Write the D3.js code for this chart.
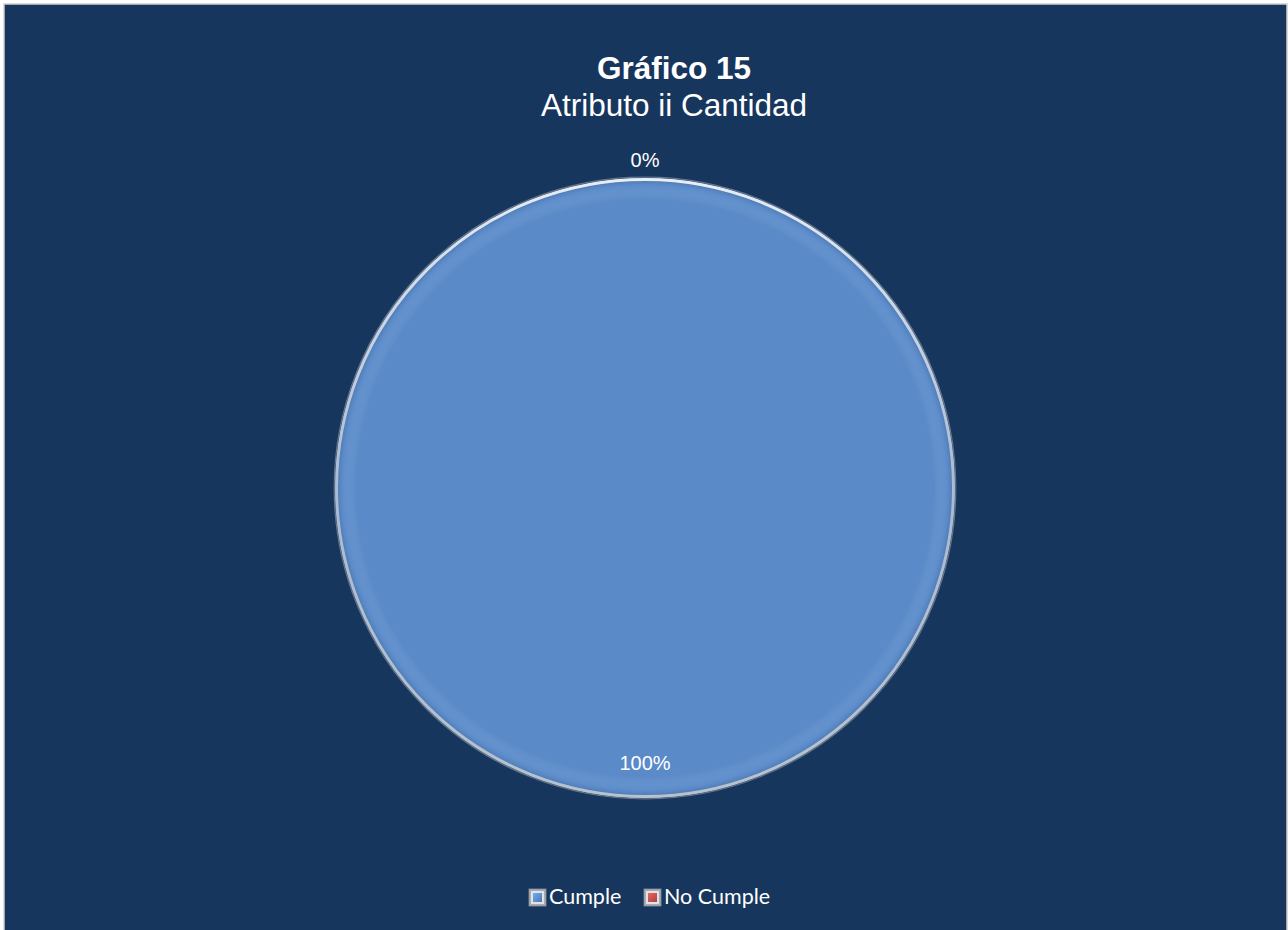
<!DOCTYPE html>
<html>
<head>
<meta charset="utf-8">
<script src="https://cdn.jsdelivr.net/npm/d3@7"></script>
<style>
  html, body { margin: 0; padding: 0; background: #ffffff; }
  svg { display: block; }
</style>
</head>
<body>
<svg id="chart" width="1288" height="930"></svg>
<script>
// Chart data
const categories = ["Cumple", "No Cumple"];
const values = [100, 0];
const percentLabels = ["100%", "0%"];
const titleLines = ["Gráfico 15", "Atributo ii Cantidad"];

const colors = { "Cumple": "#5a8ac8", "No Cumple": "#c0504d" };

const svg = d3.select("#chart");
const W = 1288, H = 930;

// Chart area with thin light frame
svg.append("rect")
  .attr("x", 4).attr("y", 4)
  .attr("width", W - 5).attr("height", H)
  .attr("fill", "#17365d")
  .attr("stroke", "#d0d0d0")
  .attr("stroke-width", 1.5);

const defs = svg.append("defs");

// Soft bevel shading near the rim of the pie
const bevel = defs.append("radialGradient")
  .attr("id", "bevel").attr("cx", "50%").attr("cy", "50%").attr("r", "50%");
bevel.append("stop").attr("offset", "0.93").attr("stop-color", "#ffffff").attr("stop-opacity", 0);
bevel.append("stop").attr("offset", "0.97").attr("stop-color", "#7aa8e4").attr("stop-opacity", 0.18);
bevel.append("stop").attr("offset", "0.99").attr("stop-color", "#3e6294").attr("stop-opacity", 0.3);
bevel.append("stop").attr("offset", "1").attr("stop-color", "#2c4a78").attr("stop-opacity", 0.45);

// Light highlight along the rim, brightest at the top
const gloss = defs.append("linearGradient")
  .attr("id", "gloss").attr("x1", 0).attr("y1", 0).attr("x2", 0).attr("y2", 1);
gloss.append("stop").attr("offset", "0").attr("stop-color", "#eef4fb").attr("stop-opacity", 0.95);
gloss.append("stop").attr("offset", "0.5").attr("stop-color", "#c8d2de").attr("stop-opacity", 0.75);
gloss.append("stop").attr("offset", "1").attr("stop-color", "#bcc6d0").attr("stop-opacity", 0.95);

// Legend swatch bevels
function swatchGrad(id, color) {
  const g = defs.append("linearGradient").attr("id", id)
    .attr("x1", 0).attr("y1", 0).attr("x2", 1).attr("y2", 1);
  g.append("stop").attr("offset", "0").attr("stop-color", d3.color(color).brighter(0.6));
  g.append("stop").attr("offset", "1").attr("stop-color", d3.color(color).darker(0.4));
}
swatchGrad("sw0", colors["Cumple"]);
swatchGrad("sw1", colors["No Cumple"]);

// Title
const title = svg.append("text")
  .attr("text-anchor", "middle")
  .attr("font-family", "'Liberation Sans', Arial, sans-serif")
  .attr("fill", "#ffffff");
title.append("tspan").attr("x", 674).attr("y", 79)
  .attr("font-size", 31.5).attr("font-weight", "bold").text(titleLines[0]);
title.append("tspan").attr("x", 674).attr("y", 116)
  .attr("font-size", 31.5).text(titleLines[1]);

// Pie
const cx = 645, cy = 488, r = 310;
const pie = d3.pie().sort(null).value(d => d.value);
const data = categories.map((c, i) => ({ name: c, value: values[i], label: percentLabels[i] }));
const arcs = pie(data);
const arc = d3.arc().innerRadius(0).outerRadius(r);

const g = svg.append("g").attr("transform", `translate(${cx},${cy})`);

g.selectAll("path.slice")
  .data(arcs)
  .join("path")
  .attr("class", "slice")
  .attr("d", arc)
  .attr("fill", d => colors[d.data.name]);

// Rim shading and outline
g.append("circle").attr("r", r).attr("fill", "url(#bevel)");
g.append("circle").attr("r", r - 1.5)
  .attr("fill", "none")
  .attr("stroke", "url(#gloss)")
  .attr("stroke-width", 3);
g.append("circle").attr("r", r + 0.8)
  .attr("fill", "none")
  .attr("stroke", "#7c8796")
  .attr("stroke-width", 1.2)
  .attr("stroke-opacity", 0.8);

// Percentage labels: full slice inside, empty slice just outside the rim
const labelArcIn = d3.arc().innerRadius(r * 0.885).outerRadius(r * 0.885);
const labelArcOut = d3.arc().innerRadius(r + 18).outerRadius(r + 18);

g.selectAll("text.pct")
  .data(arcs)
  .join("text")
  .attr("class", "pct")
  .attr("transform", d => {
    const a = d.value > 0 ? labelArcIn : labelArcOut;
    const [x, y] = a.centroid(d);
    return `translate(${x},${y})`;
  })
  .attr("dy", "0.36em")
  .attr("text-anchor", "middle")
  .attr("font-family", "'Liberation Sans', Arial, sans-serif")
  .attr("font-size", 20)
  .attr("fill", "#ffffff")
  .text(d => d.data.label);

// Legend
const legendX = [529, 644];
const legend = svg.append("g");
const items = legend.selectAll("g.item")
  .data(categories)
  .join("g")
  .attr("class", "item")
  .attr("transform", (d, i) => `translate(${legendX[i]},889)`);

items.append("rect")
  .attr("width", 17).attr("height", 17)
  .attr("fill", "#a8adb3")
  .attr("stroke", "#8a9098").attr("stroke-width", 0.8);
items.append("rect")
  .attr("x", 2).attr("y", 2).attr("width", 13).attr("height", 13)
  .attr("fill", "#dfe3e8");
items.append("rect")
  .attr("x", 4).attr("y", 4).attr("width", 9).attr("height", 9)
  .attr("fill", (d, i) => `url(#sw${i})`);
items.append("text")
  .attr("x", 20).attr("y", 15)
  .attr("font-family", "Lato, 'Open Sans', sans-serif")
  .attr("font-size", 21.5)
  .attr("fill", "#ffffff")
  .text(d => d);
</script>
</body>
</html>
